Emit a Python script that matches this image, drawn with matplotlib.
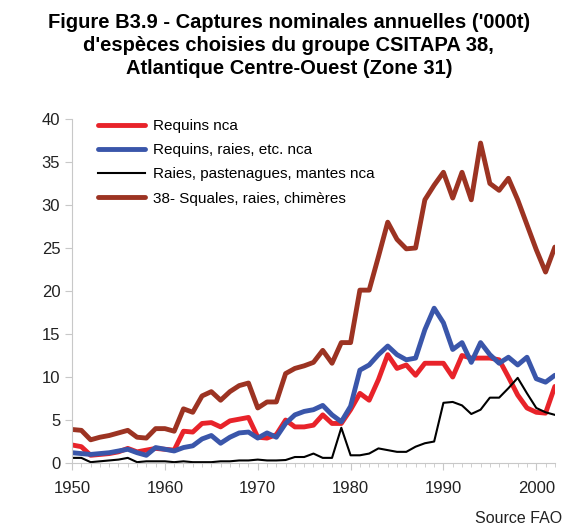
import numpy as np
import matplotlib
matplotlib.use('Agg')
import matplotlib.pyplot as plt
from matplotlib.ticker import MultipleLocator

plt.rcParams['font.family'] = ['Liberation Sans', 'DejaVu Sans']

years = np.arange(1950, 2003)

# catches in '000 t
requins_nca = [2.1, 1.9, 0.9, 1.0, 1.1, 1.3, 1.7, 1.3, 1.5, 1.7, 1.6, 1.5, 3.7, 3.6, 4.6, 4.7, 4.2, 4.9, 5.1, 5.3,
               3.0, 2.9, 3.3, 5.0, 4.2, 4.2, 4.4, 5.6, 4.6, 4.6, 6.2, 8.1, 7.3, 9.7, 12.6, 11.0, 11.4, 10.2, 11.6, 11.6,
               11.6, 10.0, 12.5, 12.2, 12.2, 12.2, 12.0, 10.0, 7.9, 6.4, 5.9, 5.8, 8.9]
requins_raies = [1.2, 1.1, 1.0, 1.1, 1.2, 1.4, 1.6, 1.2, 0.9, 1.8, 1.6, 1.4, 1.8, 2.0, 2.8, 3.2, 2.3, 3.0, 3.5, 3.6,
                 2.9, 3.5, 3.0, 4.6, 5.6, 6.0, 6.2, 6.7, 5.6, 4.8, 6.6, 10.8, 11.4, 12.6, 13.6, 12.6, 12.0, 12.2, 15.5, 18.0,
                 16.3, 13.2, 14.0, 11.7, 14.0, 12.6, 11.6, 12.3, 11.4, 12.3, 9.8, 9.4, 10.2]
raies_past = [0.6, 0.6, 0.1, 0.2, 0.3, 0.4, 0.6, 0.1, 0.2, 0.2, 0.2, 0.1, 0.2, 0.1, 0.1, 0.1, 0.2, 0.2, 0.3, 0.3,
              0.4, 0.3, 0.3, 0.35, 0.7, 0.7, 1.1, 0.6, 0.6, 4.1, 0.9, 0.9, 1.1, 1.7, 1.5, 1.3, 1.3, 1.9, 2.3, 2.5,
              7.0, 7.1, 6.7, 5.7, 6.2, 7.6, 7.6, 8.7, 9.9, 8.1, 6.4, 5.9, 5.6]
squales = [3.9, 3.8, 2.7, 3.0, 3.2, 3.5, 3.8, 3.0, 2.9, 4.0, 4.0, 3.7, 6.3, 5.9, 7.8, 8.3, 7.3, 8.3, 9.0, 9.3,
           6.4, 7.1, 7.1, 10.4, 11.0, 11.3, 11.7, 13.1, 11.6, 14.0, 14.0, 20.1, 20.1, 24.0, 28.0, 26.0, 24.9, 25.0, 30.6, 32.3,
           33.8, 30.8, 33.8, 30.6, 37.2, 32.5, 31.7, 33.1, 30.6, 27.7, 24.8, 22.2, 25.1]

labels = ['Requins nca', 'Requins, raies, etc. nca',
          'Raies, pastenagues, mantes nca', '38- Squales, raies, chimères']


def main():
    fig = plt.figure(figsize=(5.72, 5.31), dpi=100)
    ax = fig.add_axes([0.126, 0.128, 0.844, 0.648])

    ax.plot(years, requins_nca, color='#e8232a', lw=3.5, solid_joinstyle='round', solid_capstyle='round', label=labels[0])
    ax.plot(years, requins_raies, color='#3a56aa', lw=3.5, solid_joinstyle='round', solid_capstyle='round', label=labels[1])
    ax.plot(years, raies_past, color='black', lw=1.5, label=labels[2])
    ax.plot(years, squales, color='#9c3322', lw=3.5, solid_joinstyle='round', solid_capstyle='round', label=labels[3])

    ax.set_xlim(1950, 2002)
    ax.set_ylim(0, 40)
    ax.xaxis.set_major_locator(MultipleLocator(10))
    ax.xaxis.set_minor_locator(MultipleLocator(1))
    ax.yaxis.set_major_locator(MultipleLocator(5))

    for s in ['top', 'right']:
        ax.spines[s].set_visible(False)
    for s in ['left', 'bottom']:
        ax.spines[s].set_color('#c8c8c8')
    ax.tick_params(axis='both', which='major', length=5, color='#c8c8c8', labelsize=12, labelcolor='#222222')
    ax.tick_params(axis='x', which='minor', length=3, color='#c8c8c8')
    ax.tick_params(axis='x', which='major', pad=8)

    ax.legend(loc='upper left', bbox_to_anchor=(0.172, 0.776), bbox_transform=fig.transFigure,
              frameon=False, fontsize=11, handlelength=3.05, handletextpad=0.52, labelspacing=0.67,
              borderaxespad=0, borderpad=0)

    fig.text(0.505, 0.975, "Figure B3.9 - Captures nominales annuelles ('000t)\n"
             "d'espèces choisies du groupe CSITAPA 38,\nAtlantique Centre-Ouest (Zone 31)",
             ha='center', va='top', fontsize=14.5, fontweight='bold', linespacing=1.26)
    fig.text(0.983, 0.01, 'Source FAO', ha='right', va='bottom', fontsize=11.5, color='#222222')

    fig.savefig('out.png', dpi=100)


if __name__ == '__main__':
    main()
